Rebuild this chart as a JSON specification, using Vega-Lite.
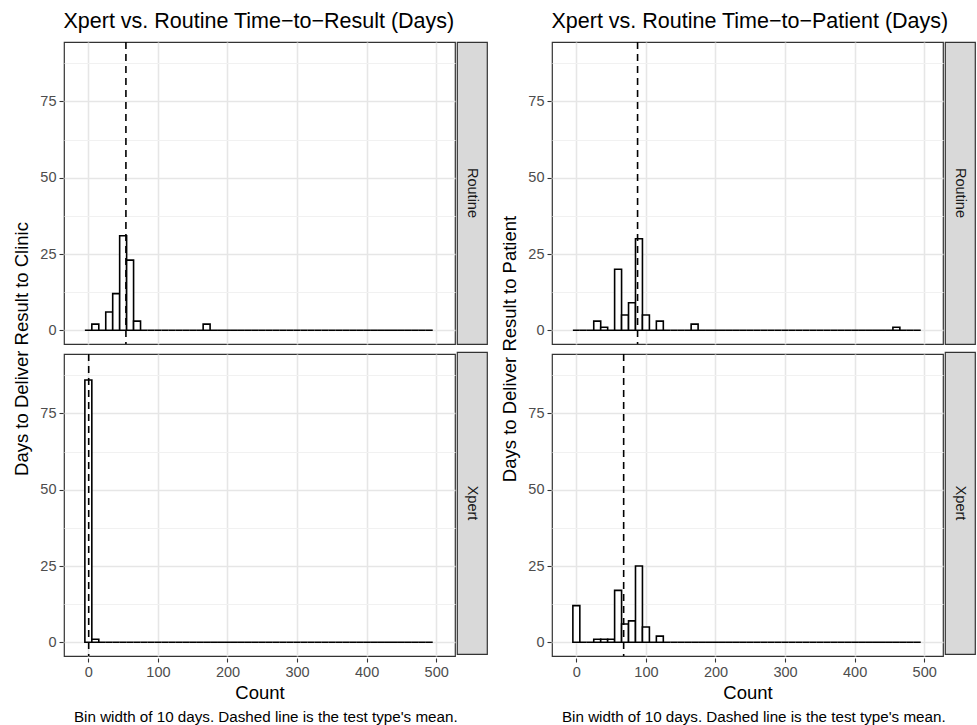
{
  "$schema": "https://vega.github.io/schema/vega-lite/v6.json",
  "background": "white",
  "padding": {"left": 12, "top": 11, "right": 2, "bottom": 2},
  "spacing": 12,
  "config": {
    "font": "Liberation Sans",
    "view": {"stroke": "#333333", "strokeWidth": 1.2},
    "axis": {
      "domain": false,
      "labelColor": "#4d4d4d",
      "labelFontSize": 14.5,
      "labelPadding": 3,
      "labelOverlap": false,
      "labelBound": false,
      "labelFlush": false,
      "tickSize": 4,
      "tickWidth": 1.1,
      "titleFontSize": 18.5,
      "titleFontWeight": "normal",
      "titleColor": "black",
      "titlePadding": 5
    },
    "header": {"titleFontSize": 18.5, "titleFontWeight": "normal", "titleColor": "black", "titlePadding": -2}
  },
  "datasets": {
    "left": [
      {"test":"Routine","lo":-5,"hi":5,"n":0},{"test":"Routine","lo":5,"hi":15,"n":2},{"test":"Routine","lo":15,"hi":25,"n":0},{"test":"Routine","lo":25,"hi":35,"n":6},{"test":"Routine","lo":35,"hi":45,"n":12},{"test":"Routine","lo":45,"hi":55,"n":31},{"test":"Routine","lo":55,"hi":65,"n":23},{"test":"Routine","lo":65,"hi":75,"n":3},{"test":"Routine","lo":75,"hi":85,"n":0},{"test":"Routine","lo":85,"hi":95,"n":0},
      {"test":"Routine","lo":95,"hi":105,"n":0},{"test":"Routine","lo":105,"hi":115,"n":0},{"test":"Routine","lo":115,"hi":125,"n":0},{"test":"Routine","lo":125,"hi":135,"n":0},{"test":"Routine","lo":135,"hi":145,"n":0},{"test":"Routine","lo":145,"hi":155,"n":0},{"test":"Routine","lo":155,"hi":165,"n":0},{"test":"Routine","lo":165,"hi":175,"n":2},{"test":"Routine","lo":175,"hi":185,"n":0},{"test":"Routine","lo":185,"hi":195,"n":0},
      {"test":"Routine","lo":195,"hi":205,"n":0},{"test":"Routine","lo":205,"hi":215,"n":0},{"test":"Routine","lo":215,"hi":225,"n":0},{"test":"Routine","lo":225,"hi":235,"n":0},{"test":"Routine","lo":235,"hi":245,"n":0},{"test":"Routine","lo":245,"hi":255,"n":0},{"test":"Routine","lo":255,"hi":265,"n":0},{"test":"Routine","lo":265,"hi":275,"n":0},{"test":"Routine","lo":275,"hi":285,"n":0},{"test":"Routine","lo":285,"hi":295,"n":0},
      {"test":"Routine","lo":295,"hi":305,"n":0},{"test":"Routine","lo":305,"hi":315,"n":0},{"test":"Routine","lo":315,"hi":325,"n":0},{"test":"Routine","lo":325,"hi":335,"n":0},{"test":"Routine","lo":335,"hi":345,"n":0},{"test":"Routine","lo":345,"hi":355,"n":0},{"test":"Routine","lo":355,"hi":365,"n":0},{"test":"Routine","lo":365,"hi":375,"n":0},{"test":"Routine","lo":375,"hi":385,"n":0},{"test":"Routine","lo":385,"hi":395,"n":0},
      {"test":"Routine","lo":395,"hi":405,"n":0},{"test":"Routine","lo":405,"hi":415,"n":0},{"test":"Routine","lo":415,"hi":425,"n":0},{"test":"Routine","lo":425,"hi":435,"n":0},{"test":"Routine","lo":435,"hi":445,"n":0},{"test":"Routine","lo":445,"hi":455,"n":0},{"test":"Routine","lo":455,"hi":465,"n":0},{"test":"Routine","lo":465,"hi":475,"n":0},{"test":"Routine","lo":475,"hi":485,"n":0},{"test":"Routine","lo":485,"hi":495,"n":0},
      {"test":"Xpert","lo":-5,"hi":5,"n":86},{"test":"Xpert","lo":5,"hi":15,"n":1},{"test":"Xpert","lo":15,"hi":25,"n":0},{"test":"Xpert","lo":25,"hi":35,"n":0},{"test":"Xpert","lo":35,"hi":45,"n":0},{"test":"Xpert","lo":45,"hi":55,"n":0},{"test":"Xpert","lo":55,"hi":65,"n":0},{"test":"Xpert","lo":65,"hi":75,"n":0},{"test":"Xpert","lo":75,"hi":85,"n":0},{"test":"Xpert","lo":85,"hi":95,"n":0},
      {"test":"Xpert","lo":95,"hi":105,"n":0},{"test":"Xpert","lo":105,"hi":115,"n":0},{"test":"Xpert","lo":115,"hi":125,"n":0},{"test":"Xpert","lo":125,"hi":135,"n":0},{"test":"Xpert","lo":135,"hi":145,"n":0},{"test":"Xpert","lo":145,"hi":155,"n":0},{"test":"Xpert","lo":155,"hi":165,"n":0},{"test":"Xpert","lo":165,"hi":175,"n":0},{"test":"Xpert","lo":175,"hi":185,"n":0},{"test":"Xpert","lo":185,"hi":195,"n":0},
      {"test":"Xpert","lo":195,"hi":205,"n":0},{"test":"Xpert","lo":205,"hi":215,"n":0},{"test":"Xpert","lo":215,"hi":225,"n":0},{"test":"Xpert","lo":225,"hi":235,"n":0},{"test":"Xpert","lo":235,"hi":245,"n":0},{"test":"Xpert","lo":245,"hi":255,"n":0},{"test":"Xpert","lo":255,"hi":265,"n":0},{"test":"Xpert","lo":265,"hi":275,"n":0},{"test":"Xpert","lo":275,"hi":285,"n":0},{"test":"Xpert","lo":285,"hi":295,"n":0},
      {"test":"Xpert","lo":295,"hi":305,"n":0},{"test":"Xpert","lo":305,"hi":315,"n":0},{"test":"Xpert","lo":315,"hi":325,"n":0},{"test":"Xpert","lo":325,"hi":335,"n":0},{"test":"Xpert","lo":335,"hi":345,"n":0},{"test":"Xpert","lo":345,"hi":355,"n":0},{"test":"Xpert","lo":355,"hi":365,"n":0},{"test":"Xpert","lo":365,"hi":375,"n":0},{"test":"Xpert","lo":375,"hi":385,"n":0},{"test":"Xpert","lo":385,"hi":395,"n":0},
      {"test":"Xpert","lo":395,"hi":405,"n":0},{"test":"Xpert","lo":405,"hi":415,"n":0},{"test":"Xpert","lo":415,"hi":425,"n":0},{"test":"Xpert","lo":425,"hi":435,"n":0},{"test":"Xpert","lo":435,"hi":445,"n":0},{"test":"Xpert","lo":445,"hi":455,"n":0},{"test":"Xpert","lo":455,"hi":465,"n":0},{"test":"Xpert","lo":465,"hi":475,"n":0},{"test":"Xpert","lo":475,"hi":485,"n":0},{"test":"Xpert","lo":485,"hi":495,"n":0},
      {"test":"Routine","mean":54},{"test":"Xpert","mean":0.5}
    ],
    "right": [
      {"test":"Routine","lo":-5,"hi":5,"n":0},{"test":"Routine","lo":5,"hi":15,"n":0},{"test":"Routine","lo":15,"hi":25,"n":0},{"test":"Routine","lo":25,"hi":35,"n":3},{"test":"Routine","lo":35,"hi":45,"n":1},{"test":"Routine","lo":45,"hi":55,"n":0},{"test":"Routine","lo":55,"hi":65,"n":20},{"test":"Routine","lo":65,"hi":75,"n":5},{"test":"Routine","lo":75,"hi":85,"n":9},{"test":"Routine","lo":85,"hi":95,"n":30},
      {"test":"Routine","lo":95,"hi":105,"n":5},{"test":"Routine","lo":105,"hi":115,"n":0},{"test":"Routine","lo":115,"hi":125,"n":3},{"test":"Routine","lo":125,"hi":135,"n":0},{"test":"Routine","lo":135,"hi":145,"n":0},{"test":"Routine","lo":145,"hi":155,"n":0},{"test":"Routine","lo":155,"hi":165,"n":0},{"test":"Routine","lo":165,"hi":175,"n":2},{"test":"Routine","lo":175,"hi":185,"n":0},{"test":"Routine","lo":185,"hi":195,"n":0},
      {"test":"Routine","lo":195,"hi":205,"n":0},{"test":"Routine","lo":205,"hi":215,"n":0},{"test":"Routine","lo":215,"hi":225,"n":0},{"test":"Routine","lo":225,"hi":235,"n":0},{"test":"Routine","lo":235,"hi":245,"n":0},{"test":"Routine","lo":245,"hi":255,"n":0},{"test":"Routine","lo":255,"hi":265,"n":0},{"test":"Routine","lo":265,"hi":275,"n":0},{"test":"Routine","lo":275,"hi":285,"n":0},{"test":"Routine","lo":285,"hi":295,"n":0},
      {"test":"Routine","lo":295,"hi":305,"n":0},{"test":"Routine","lo":305,"hi":315,"n":0},{"test":"Routine","lo":315,"hi":325,"n":0},{"test":"Routine","lo":325,"hi":335,"n":0},{"test":"Routine","lo":335,"hi":345,"n":0},{"test":"Routine","lo":345,"hi":355,"n":0},{"test":"Routine","lo":355,"hi":365,"n":0},{"test":"Routine","lo":365,"hi":375,"n":0},{"test":"Routine","lo":375,"hi":385,"n":0},{"test":"Routine","lo":385,"hi":395,"n":0},
      {"test":"Routine","lo":395,"hi":405,"n":0},{"test":"Routine","lo":405,"hi":415,"n":0},{"test":"Routine","lo":415,"hi":425,"n":0},{"test":"Routine","lo":425,"hi":435,"n":0},{"test":"Routine","lo":435,"hi":445,"n":0},{"test":"Routine","lo":445,"hi":455,"n":0},{"test":"Routine","lo":455,"hi":465,"n":1},{"test":"Routine","lo":465,"hi":475,"n":0},{"test":"Routine","lo":475,"hi":485,"n":0},{"test":"Routine","lo":485,"hi":495,"n":0},
      {"test":"Xpert","lo":-5,"hi":5,"n":12},{"test":"Xpert","lo":5,"hi":15,"n":0},{"test":"Xpert","lo":15,"hi":25,"n":0},{"test":"Xpert","lo":25,"hi":35,"n":1},{"test":"Xpert","lo":35,"hi":45,"n":1},{"test":"Xpert","lo":45,"hi":55,"n":1},{"test":"Xpert","lo":55,"hi":65,"n":17},{"test":"Xpert","lo":65,"hi":75,"n":6},{"test":"Xpert","lo":75,"hi":85,"n":7},{"test":"Xpert","lo":85,"hi":95,"n":25},
      {"test":"Xpert","lo":95,"hi":105,"n":5},{"test":"Xpert","lo":105,"hi":115,"n":0},{"test":"Xpert","lo":115,"hi":125,"n":2},{"test":"Xpert","lo":125,"hi":135,"n":0},{"test":"Xpert","lo":135,"hi":145,"n":0},{"test":"Xpert","lo":145,"hi":155,"n":0},{"test":"Xpert","lo":155,"hi":165,"n":0},{"test":"Xpert","lo":165,"hi":175,"n":0},{"test":"Xpert","lo":175,"hi":185,"n":0},{"test":"Xpert","lo":185,"hi":195,"n":0},
      {"test":"Xpert","lo":195,"hi":205,"n":0},{"test":"Xpert","lo":205,"hi":215,"n":0},{"test":"Xpert","lo":215,"hi":225,"n":0},{"test":"Xpert","lo":225,"hi":235,"n":0},{"test":"Xpert","lo":235,"hi":245,"n":0},{"test":"Xpert","lo":245,"hi":255,"n":0},{"test":"Xpert","lo":255,"hi":265,"n":0},{"test":"Xpert","lo":265,"hi":275,"n":0},{"test":"Xpert","lo":275,"hi":285,"n":0},{"test":"Xpert","lo":285,"hi":295,"n":0},
      {"test":"Xpert","lo":295,"hi":305,"n":0},{"test":"Xpert","lo":305,"hi":315,"n":0},{"test":"Xpert","lo":315,"hi":325,"n":0},{"test":"Xpert","lo":325,"hi":335,"n":0},{"test":"Xpert","lo":335,"hi":345,"n":0},{"test":"Xpert","lo":345,"hi":355,"n":0},{"test":"Xpert","lo":355,"hi":365,"n":0},{"test":"Xpert","lo":365,"hi":375,"n":0},{"test":"Xpert","lo":375,"hi":385,"n":0},{"test":"Xpert","lo":385,"hi":395,"n":0},
      {"test":"Xpert","lo":395,"hi":405,"n":0},{"test":"Xpert","lo":405,"hi":415,"n":0},{"test":"Xpert","lo":415,"hi":425,"n":0},{"test":"Xpert","lo":425,"hi":435,"n":0},{"test":"Xpert","lo":435,"hi":445,"n":0},{"test":"Xpert","lo":445,"hi":455,"n":0},{"test":"Xpert","lo":455,"hi":465,"n":0},{"test":"Xpert","lo":465,"hi":475,"n":0},{"test":"Xpert","lo":475,"hi":485,"n":0},{"test":"Xpert","lo":485,"hi":495,"n":0},
      {"test":"Routine","mean":88},{"test":"Xpert","mean":68}
    ]
  },
  "hconcat": [
    {
      "title": {"text": "Bin width of 10 days. Dashed line is the test type's mean.", "orient": "bottom", "anchor": "end", "frame": "bounds", "dx": -30, "fontSize": 15.2, "fontWeight": "normal", "color": "black", "offset": 8},
      "vconcat": [
        {
          "title": {"text": "Xpert vs. Routine Time−to−Result (Days)", "anchor": "start", "frame": "bounds", "dx": 51, "fontSize": 21.5, "fontWeight": "normal", "color": "black", "offset": 8},
          "spacing": 0,
          "hconcat": [
            {
              "data": {"name": "left"},
              "facet": {"row": {"field": "test", "type": "nominal", "sort": ["Routine", "Xpert"], "title": "Days to Deliver Result to Clinic", "header": {"labels": false}}},
              "spacing": {"row": 6},
              "spec": {
                "width": 391,
                "height": 302,
                "layer": [
                  {
                    "transform": [{"filter": "isValid(datum.lo)"}],
                    "mark": {"type": "rect", "fill": "white", "stroke": "black", "strokeWidth": 1.6},
                    "encoding": {
                      "x": {"field": "lo", "type": "quantitative", "title": "Count", "scale": {"domain": [-35, 527], "nice": false, "zero": false},
                        "axis": {"labelOverlap": false, "values": [0, 50, 100, 150, 200, 250, 300, 350, 400, 450, 500],
                          "labelExpr": "datum.value % 100 === 0 ? datum.label : ''",
                          "gridColor": {"condition": {"test": "datum.value % 100 !== 0", "value": "#f1f1f1"}, "value": "#e6e6e6"},
                          "gridWidth": {"condition": {"test": "datum.value % 100 !== 0", "value": 1}, "value": 1.6},
                          "tickColor": {"condition": {"test": "datum.value % 100 !== 0", "value": "transparent"}, "value": "#333333"}}},
                      "x2": {"field": "hi"},
                      "y": {"field": "n", "type": "quantitative", "title": null, "scale": {"domain": [-4.5, 94.5], "nice": false, "zero": false},
                        "axis": {"labelOverlap": false, "values": [0, 12.5, 25, 37.5, 50, 62.5, 75, 87.5],
                          "labelExpr": "datum.value % 25 === 0 ? datum.label : ''",
                          "gridColor": {"condition": {"test": "datum.value % 25 !== 0", "value": "#f1f1f1"}, "value": "#e6e6e6"},
                          "gridWidth": {"condition": {"test": "datum.value % 25 !== 0", "value": 1}, "value": 1.6},
                          "tickColor": {"condition": {"test": "datum.value % 25 !== 0", "value": "transparent"}, "value": "#333333"}}},
                      "y2": {"datum": 0}
                    }
                  },
                  {
                    "transform": [{"filter": "isValid(datum.mean)"}],
                    "mark": {"type": "rule", "color": "black", "strokeWidth": 1.6, "strokeDash": [7, 5]},
                    "encoding": {
                      "x": {"field": "mean", "type": "quantitative", "title": "Count"}
                    }
                  }
                ]
              }
            },
            {
              "spacing": 6,
              "vconcat": [
                {"width": 30, "height": 302, "view": {"fill": "#d9d9d9", "stroke": "#333333", "strokeWidth": 1.2}, "data": {"values": [{"label": "Routine"}]}, "mark": {"type": "text", "angle": 90, "fontSize": 14.5, "color": "#1a1a1a"}, "encoding": {"text": {"field": "label"}}},
                {"width": 30, "height": 302, "view": {"fill": "#d9d9d9", "stroke": "#333333", "strokeWidth": 1.2}, "data": {"values": [{"label": "Xpert"}]}, "mark": {"type": "text", "angle": 90, "fontSize": 14.5, "color": "#1a1a1a"}, "encoding": {"text": {"field": "label"}}}
              ]
            }
          ]
        }
      ]
    },
    {
      "title": {"text": "Bin width of 10 days. Dashed line is the test type's mean.", "orient": "bottom", "anchor": "end", "frame": "bounds", "dx": -30, "fontSize": 15.2, "fontWeight": "normal", "color": "black", "offset": 8},
      "vconcat": [
        {
          "title": {"text": "Xpert vs. Routine Time−to−Patient (Days)", "anchor": "start", "frame": "bounds", "dx": 51, "fontSize": 21.5, "fontWeight": "normal", "color": "black", "offset": 8},
          "spacing": 0,
          "hconcat": [
            {
              "data": {"name": "right"},
              "facet": {"row": {"field": "test", "type": "nominal", "sort": ["Routine", "Xpert"], "title": "Days to Deliver Result to Patient", "header": {"labels": false}}},
              "spacing": {"row": 6},
              "spec": {
                "width": 391,
                "height": 302,
                "layer": [
                  {
                    "transform": [{"filter": "isValid(datum.lo)"}],
                    "mark": {"type": "rect", "fill": "white", "stroke": "black", "strokeWidth": 1.6},
                    "encoding": {
                      "x": {"field": "lo", "type": "quantitative", "title": "Count", "scale": {"domain": [-35, 527], "nice": false, "zero": false},
                        "axis": {"labelOverlap": false, "values": [0, 50, 100, 150, 200, 250, 300, 350, 400, 450, 500],
                          "labelExpr": "datum.value % 100 === 0 ? datum.label : ''",
                          "gridColor": {"condition": {"test": "datum.value % 100 !== 0", "value": "#f1f1f1"}, "value": "#e6e6e6"},
                          "gridWidth": {"condition": {"test": "datum.value % 100 !== 0", "value": 1}, "value": 1.6},
                          "tickColor": {"condition": {"test": "datum.value % 100 !== 0", "value": "transparent"}, "value": "#333333"}}},
                      "x2": {"field": "hi"},
                      "y": {"field": "n", "type": "quantitative", "title": null, "scale": {"domain": [-4.5, 94.5], "nice": false, "zero": false},
                        "axis": {"labelOverlap": false, "values": [0, 12.5, 25, 37.5, 50, 62.5, 75, 87.5],
                          "labelExpr": "datum.value % 25 === 0 ? datum.label : ''",
                          "gridColor": {"condition": {"test": "datum.value % 25 !== 0", "value": "#f1f1f1"}, "value": "#e6e6e6"},
                          "gridWidth": {"condition": {"test": "datum.value % 25 !== 0", "value": 1}, "value": 1.6},
                          "tickColor": {"condition": {"test": "datum.value % 25 !== 0", "value": "transparent"}, "value": "#333333"}}},
                      "y2": {"datum": 0}
                    }
                  },
                  {
                    "transform": [{"filter": "isValid(datum.mean)"}],
                    "mark": {"type": "rule", "color": "black", "strokeWidth": 1.6, "strokeDash": [7, 5]},
                    "encoding": {
                      "x": {"field": "mean", "type": "quantitative", "title": "Count"}
                    }
                  }
                ]
              }
            },
            {
              "spacing": 6,
              "vconcat": [
                {"width": 30, "height": 302, "view": {"fill": "#d9d9d9", "stroke": "#333333", "strokeWidth": 1.2}, "data": {"values": [{"label": "Routine"}]}, "mark": {"type": "text", "angle": 90, "fontSize": 14.5, "color": "#1a1a1a"}, "encoding": {"text": {"field": "label"}}},
                {"width": 30, "height": 302, "view": {"fill": "#d9d9d9", "stroke": "#333333", "strokeWidth": 1.2}, "data": {"values": [{"label": "Xpert"}]}, "mark": {"type": "text", "angle": 90, "fontSize": 14.5, "color": "#1a1a1a"}, "encoding": {"text": {"field": "label"}}}
              ]
            }
          ]
        }
      ]
    }
  ]
}
